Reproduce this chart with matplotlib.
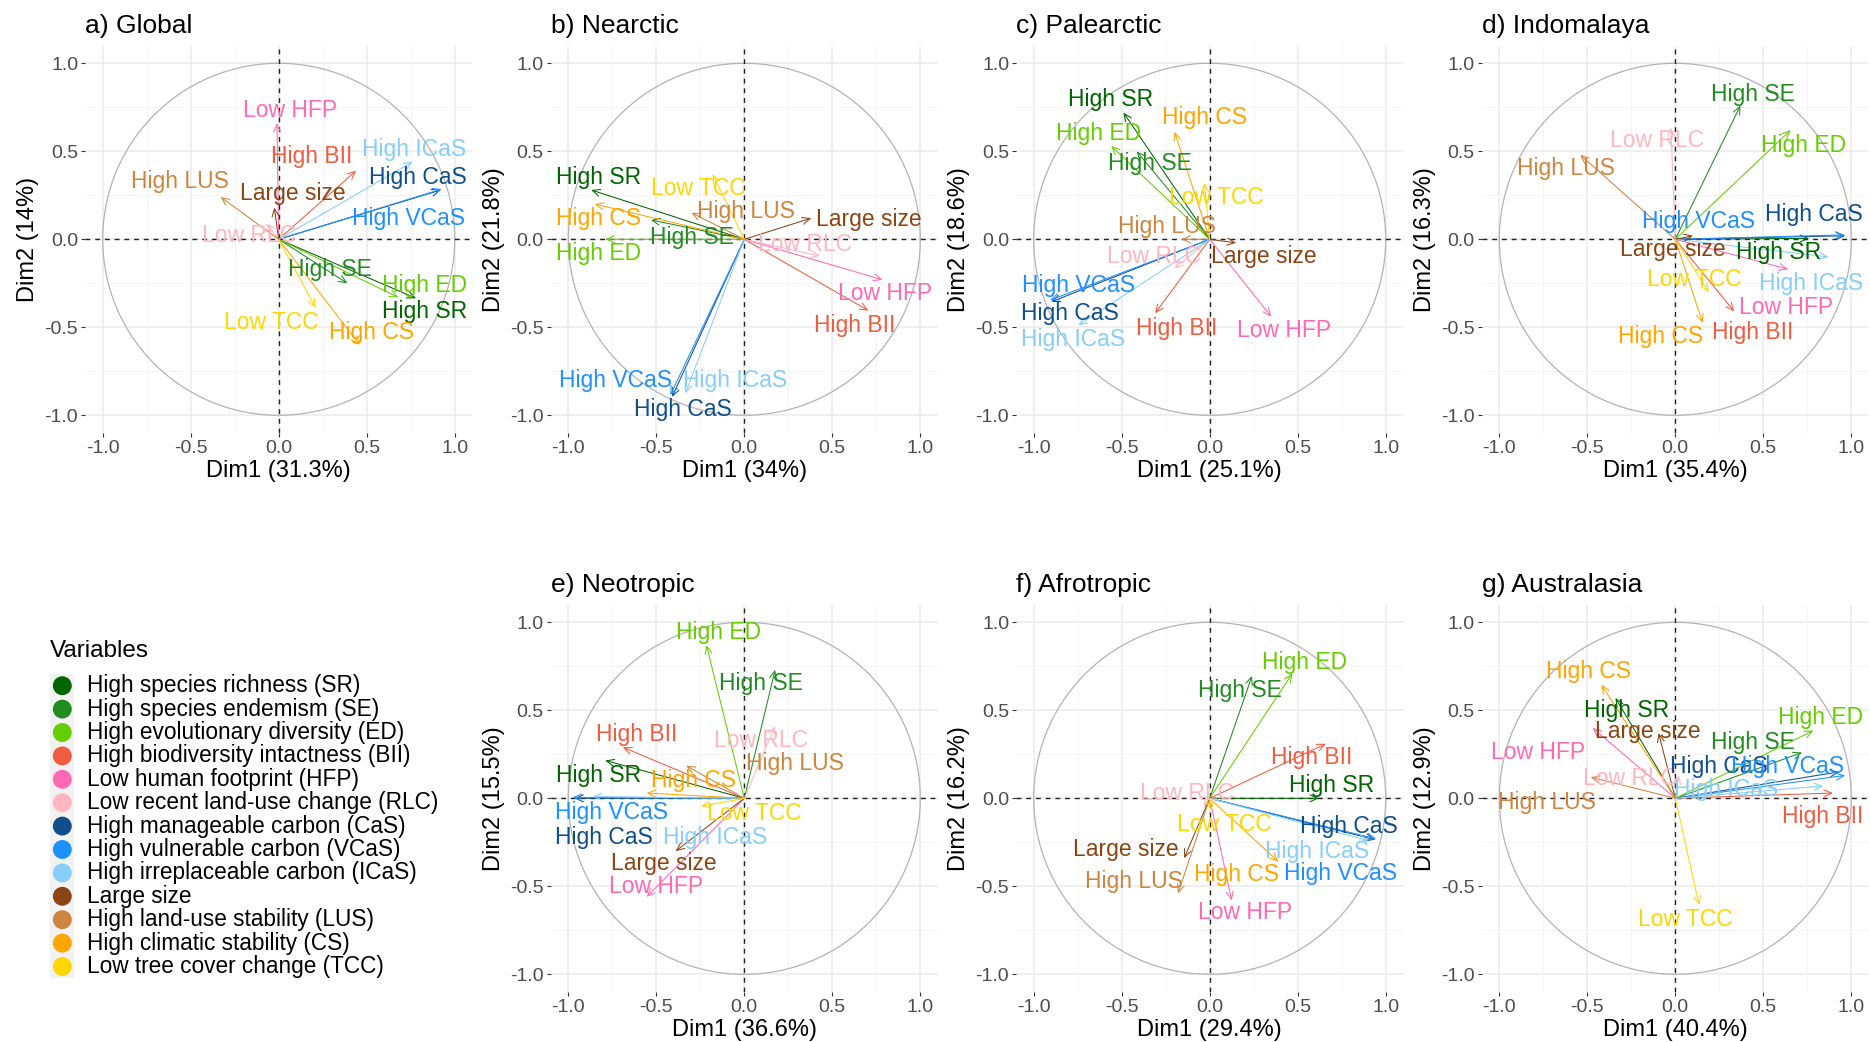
import numpy as np
import matplotlib
matplotlib.use("Agg")
import matplotlib.pyplot as plt

plt.rcParams["font.family"] = ["Liberation Sans", "DejaVu Sans"]

# variables (same order in every panel)
VAR_NAMES = ["High species richness (SR)", "High species endemism (SE)",
             "High evolutionary diversity (ED)", "High biodiversity intactness (BII)",
             "Low human footprint (HFP)", "Low recent land-use change (RLC)",
             "High manageable carbon (CaS)", "High vulnerable carbon (VCaS)",
             "High irreplaceable carbon (ICaS)", "Large size",
             "High land-use stability (LUS)", "High climatic stability (CS)",
             "Low tree cover change (TCC)"]
SHORT = ["High SR", "High SE", "High ED", "High BII", "Low HFP", "Low RLC",
         "High CaS", "High VCaS", "High ICaS", "Large size", "High LUS",
         "High CS", "Low TCC"]
COLORS = ["#006400", "#228B22", "#66CD00", "#EE5C42", "#FF69B4", "#FFB6C1",
          "#104E8B", "#1E90FF", "#87CEFA", "#8B4513", "#CD853F", "#FFA500",
          "#FFD700"]

# arrow tips (x, y) and label centres (lx, ly) per region
GLOBAL_X = [0.78, 0.39, 0.68, 0.44, -0.01, -0.07, 0.92, 0.925, 0.76, -0.025, -0.33, 0.46, 0.21]
GLOBAL_Y = [-0.335, -0.25, -0.33, 0.39, 0.66, 0.09, 0.28, 0.285, 0.44, 0.18, 0.24, -0.60, -0.39]
GLOBAL_LX = [0.83, 0.29, 0.83, 0.19, 0.065, -0.17, 0.79, 0.74, 0.77, 0.08, -0.56, 0.53, -0.04]
GLOBAL_LY = [-0.41, -0.17, -0.26, 0.47, 0.73, 0.02, 0.35, 0.12, 0.51, 0.26, 0.33, -0.53, -0.47]

NEARC_X = [-0.87, -0.53, -0.79, 0.705, 0.785, 0.43, -0.41, -0.42, -0.335, 0.38, -0.30, -0.85, -0.18]
NEARC_Y = [0.28, 0.11, 0.0, -0.405, -0.23, -0.095, -0.895, -0.885, -0.875, 0.12, 0.15, 0.20, 0.37]
NEARC_LX = [-0.83, -0.30, -0.83, 0.63, 0.80, 0.345, -0.35, -0.73, -0.05, 0.71, 0.01, -0.83, -0.26]
NEARC_LY = [0.35, 0.01, -0.08, -0.49, -0.31, -0.03, -0.965, -0.80, -0.80, 0.11, 0.16, 0.12, 0.29]

PALEA_X = [-0.49, -0.415, -0.56, -0.31, 0.35, -0.20, -0.90, -0.905, -0.745, 0.15, -0.16, -0.20, -0.03]
PALEA_Y = [0.72, 0.50, 0.53, -0.42, -0.44, -0.165, -0.355, -0.345, -0.487, -0.02, 0.0, 0.61, 0.32]
PALEA_LX = [-0.565, -0.34, -0.63, -0.19, 0.42, -0.315, -0.795, -0.745, -0.775, 0.31, -0.245, -0.03, 0.04]
PALEA_LY = [0.795, 0.43, 0.60, -0.505, -0.52, -0.10, -0.42, -0.265, -0.57, -0.10, 0.07, 0.69, 0.24]

INDO_X = [0.76, 0.37, 0.655, 0.335, 0.64, -0.025, 0.965, 0.96, 0.87, 0.10, -0.54, 0.155, 0.19]
INDO_Y = [0.005, 0.76, 0.62, -0.41, -0.17, 0.635, 0.02, 0.025, -0.10, 0.02, 0.48, -0.475, -0.30]
INDO_LX = [0.585, 0.44, 0.73, 0.44, 0.63, -0.105, 0.79, 0.13, 0.77, -0.015, -0.62, -0.085, 0.11]
INDO_LY = [-0.075, 0.825, 0.535, -0.53, -0.39, 0.56, 0.14, 0.10, -0.25, -0.06, 0.40, -0.555, -0.23]

NEOT_X = [-0.79, 0.175, -0.215, -0.69, -0.555, 0.175, -0.965, -0.975, -0.86, -0.39, -0.33, -0.555, -0.245]
NEOT_Y = [0.215, 0.73, 0.87, 0.29, -0.56, 0.41, 0.0, 0.005, 0.01, -0.30, 0.185, 0.03, -0.045]
NEOT_LX = [-0.83, 0.095, -0.145, -0.61, -0.50, 0.095, -0.80, -0.755, -0.165, -0.455, 0.285, -0.29, 0.055]
NEOT_LY = [0.13, 0.65, 0.94, 0.365, -0.50, 0.33, -0.22, -0.08, -0.225, -0.37, 0.195, 0.10, -0.085]

AFRO_X = [0.62, 0.24, 0.47, 0.66, 0.125, -0.035, 0.94, 0.945, 0.90, -0.145, -0.18, 0.39, 0.01]
AFRO_Y = [0.0, 0.695, 0.71, 0.31, -0.58, -0.05, -0.235, -0.23, -0.24, -0.34, -0.54, -0.36, -0.07]
AFRO_LX = [0.69, 0.17, 0.54, 0.58, 0.20, -0.13, 0.79, 0.745, 0.61, -0.475, -0.43, 0.15, 0.085]
AFRO_LY = [0.07, 0.615, 0.77, 0.23, -0.65, 0.025, -0.16, -0.43, -0.30, -0.29, -0.47, -0.435, -0.15]

AUSTR_X = [-0.34, 0.72, 0.785, 0.895, -0.47, 0.02, 0.93, 0.965, 0.84, -0.095, -0.48, -0.42, 0.135]
AUSTR_Y = [0.57, 0.26, 0.385, 0.03, 0.40, 0.13, 0.15, 0.13, 0.07, 0.37, 0.12, 0.645, -0.605]
AUSTR_LX = [-0.275, 0.44, 0.825, 0.84, -0.78, -0.26, 0.25, 0.64, 0.29, -0.155, -0.73, -0.495, 0.055]
AUSTR_LY = [0.50, 0.315, 0.46, -0.105, 0.26, 0.115, 0.18, 0.18, 0.05, 0.38, -0.025, 0.72, -0.69]

TITLES = ["a) Global", "b) Nearctic", "c) Palearctic", "d) Indomalaya",
          "e) Neotropic", "f) Afrotropic", "g) Australasia"]
DIM1 = ["31.3", "34", "25.1", "35.4", "36.6", "29.4", "40.4"]
DIM2 = ["14", "21.8", "18.6", "16.3", "15.5", "16.2", "12.9"]

panels = [
    (GLOBAL_X, GLOBAL_Y, GLOBAL_LX, GLOBAL_LY),
    (NEARC_X, NEARC_Y, NEARC_LX, NEARC_LY),
    (PALEA_X, PALEA_Y, PALEA_LX, PALEA_LY),
    (INDO_X, INDO_Y, INDO_LX, INDO_LY),
    (NEOT_X, NEOT_Y, NEOT_LX, NEOT_LY),
    (AFRO_X, AFRO_Y, AFRO_LX, AFRO_LY),
    (AUSTR_X, AUSTR_Y, AUSTR_LX, AUSTR_LY),
]

W, H = 1870, 1042
fig = plt.figure(figsize=(W / 100, H / 100), dpi=100)

# panel origins in pixels (layout)
col_x = [278.7, 744.3, 1209.7, 1675.3]
row_y = [239.3, 798.3]
origins = [(col_x[0], row_y[0]), (col_x[1], row_y[0]), (col_x[2], row_y[0]),
           (col_x[3], row_y[0]), (col_x[1], row_y[1]), (col_x[2], row_y[1]),
           (col_x[3], row_y[1])]
ppu = 176.0
lim = 1.1

theta = np.linspace(0, 2 * np.pi, 400)

for i, (xs, ys, lxs, lys) in enumerate(panels):
    ox, oy = origins[i]
    rect = [(ox - lim * ppu) / W, (H - (oy + lim * ppu)) / H,
            2 * lim * ppu / W, 2 * lim * ppu / H]
    ax = fig.add_axes(rect)
    ax.set_xlim(-lim, lim)
    ax.set_ylim(-lim, lim)
    for s in ax.spines.values():
        s.set_visible(False)
    for g in [-1, -0.5, 0, 0.5, 1]:
        ax.axvline(g, color="#EBEBEB", lw=1.1, zorder=0)
        ax.axhline(g, color="#EBEBEB", lw=1.1, zorder=0)
    for g in [-0.75, -0.25, 0.25, 0.75]:
        ax.axvline(g, color="#F4F4F4", lw=0.7, zorder=0)
        ax.axhline(g, color="#F4F4F4", lw=0.7, zorder=0)
    ax.plot(np.cos(theta), np.sin(theta), color="#B3B3B3", lw=0.9, zorder=1)
    ax.axhline(0, color="#222222", lw=1.0, ls=(0, (3.5, 3.5)), zorder=2)
    ax.axvline(0, color="#222222", lw=1.0, ls=(0, (3.5, 3.5)), zorder=2)

    for k in range(len(SHORT)):
        ax.annotate("", xy=(xs[k], ys[k]), xytext=(0, 0),
                    arrowprops=dict(arrowstyle="->,head_length=0.55,head_width=0.25",
                                    color=COLORS[k], lw=0.75, shrinkA=0, shrinkB=0,
                                    mutation_scale=10), zorder=3)
    for k in range(len(SHORT)):
        ax.text(lxs[k], lys[k], SHORT[k], color=COLORS[k], fontsize=16.5,
                ha="center", va="center", zorder=4, clip_on=False)

    ticks = [-1.0, -0.5, 0.0, 0.5, 1.0]
    ax.set_xticks(ticks)
    ax.set_yticks(ticks)
    ax.set_xticklabels([f"{t:.1f}" for t in ticks])
    ax.set_yticklabels([f"{t:.1f}" for t in ticks])
    ax.tick_params(length=3, width=0.8, color="#333333", labelcolor="#4D4D4D",
                   labelsize=14, pad=2)
    ax.set_xlabel(f"Dim1 ({DIM1[i]}%)", fontsize=17, labelpad=2)
    ax.set_ylabel(f"Dim2 ({DIM2[i]}%)", fontsize=17, labelpad=4)
    ax.set_title(TITLES[i], loc="left", fontsize=19, pad=9)

# legend
lax = fig.add_axes([0, 0, 1, 1], zorder=-1)
lax.set_xlim(0, W)
lax.set_ylim(H, 0)
lax.axis("off")
row0, pitch = 685.7, 23.4
n = len(VAR_NAMES)
lax.add_patch(plt.Rectangle((50, row0 - pitch / 2), 24, pitch * n,
                            facecolor="#F2F2F2", edgecolor="none"))
lax.text(50, 651, "Variables", fontsize=17.5, ha="left", va="center")
ys_leg = row0 + pitch * np.arange(n)
lax.scatter(np.full(n, 62.3), ys_leg, s=185, c=COLORS, edgecolors="none")
for k in range(n):
    lax.text(87, ys_leg[k], VAR_NAMES[k], fontsize=16.3, ha="left", va="center")

fig.savefig("out.png", dpi=100)
print("[OK] wrote out.png")
